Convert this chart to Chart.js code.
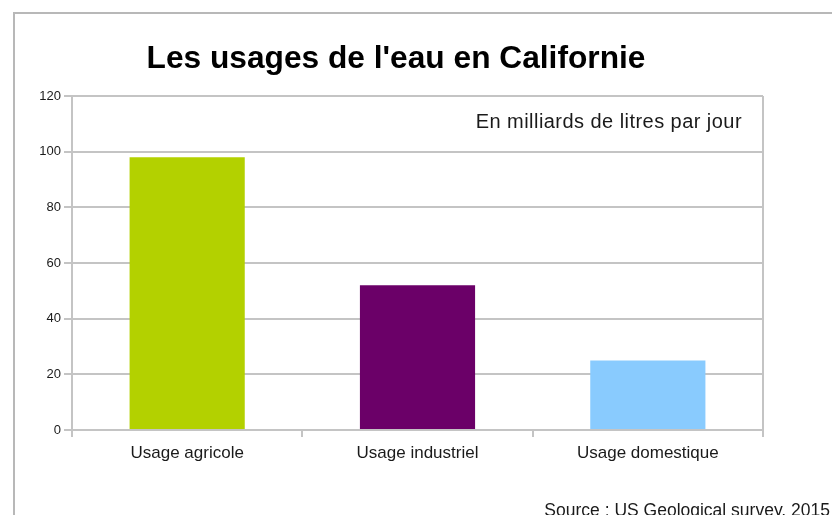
<!DOCTYPE html>
<html>
<head>
<meta charset="utf-8">
<script src="https://cdn.jsdelivr.net/npm/chart.js@4/dist/chart.umd.min.js"></script>
<style>
  html, body { margin: 0; padding: 0; background: #fff; overflow: hidden; }
  #wrap { position: relative; width: 832px; height: 515px; }
  #frame { position: absolute; left: 13px; top: 12px; width: 900px; height: 600px;
           border-left: 2px solid #b8b8b8; border-top: 2px solid #b8b8b8; box-sizing: border-box; }
  canvas { position: absolute; left: 0; top: 0; }
</style>
</head>
<body>
<div id="wrap">
  <div id="frame"></div>
  <canvas id="c" width="832" height="515"></canvas>
</div>
<script>
const categories = ["Usage agricole", "Usage industriel", "Usage domestique"];
const values = [98, 52, 25];
const barColors = ["#b3d100", "#6b0068", "#89cbfe"];
const titleText = "Les usages de l'eau en Californie";
const unitText = "En milliards de litres par jour";
const sourceText = "Source : US Geological survey, 2015";
const yMin = 0, yMax = 120, yStep = 20;

const FONT = "'Liberation Sans', Arial, sans-serif";
const GRID = "#c4c4c4";

const decor = {
  id: 'decor',
  afterDraw(chart) {
    const ctx = chart.ctx;
    const a = chart.chartArea;
    ctx.save();
    // right border of plot area
    ctx.strokeStyle = GRID;
    ctx.lineWidth = 2;
    ctx.beginPath();
    ctx.moveTo(a.right, a.top);
    ctx.lineTo(a.right, a.bottom + 7);
    ctx.stroke();
    // title
    ctx.fillStyle = "#000";
    ctx.font = "bold 31.7px " + FONT;
    ctx.textAlign = "center";
    ctx.textBaseline = "alphabetic";
    ctx.fillText(titleText, 396, 68);
    // unit note
    ctx.font = "20px " + FONT;
    ctx.letterSpacing = "0.45px";
    ctx.textAlign = "right";
    ctx.fillStyle = "#1a1a1a";
    ctx.fillText(unitText, a.right - 21, 128);
    // source
    ctx.font = "17.5px " + FONT;
    ctx.letterSpacing = "0px";
    ctx.fillText(sourceText, 830, 516);
    ctx.restore();
  }
};

new Chart(document.getElementById('c'), {
  type: 'bar',
  data: {
    labels: categories,
    datasets: [{
      data: values,
      backgroundColor: barColors,
      borderWidth: 0,
      barPercentage: 0.5,
      categoryPercentage: 1.0
    }]
  },
  options: {
    responsive: false,
    animation: false,
    devicePixelRatio: 1,
    layout: { padding: { top: 96, right: 69, left: 0, bottom: 0 } },
    plugins: { legend: { display: false }, tooltip: { enabled: false }, title: { display: false } },
    scales: {
      x: {
        grid: { display: true, drawOnChartArea: false, drawTicks: true, tickLength: 7, color: GRID, lineWidth: 2, offset: true },
        border: { display: true, color: GRID, width: 2 },
        ticks: { color: "#1a1a1a", font: { family: FONT, size: 17 }, padding: 6, maxRotation: 0 },
        afterFit(scale) { scale.height = 85; }
      },
      y: {
        min: yMin, max: yMax,
        grid: { color: GRID, lineWidth: 2, tickLength: 8 },
        border: { display: true, color: GRID, width: 2 },
        ticks: { stepSize: yStep, color: "#1a1a1a", font: { family: FONT, size: 13 }, padding: 3 },
        afterFit(scale) { scale.width = 72; }
      }
    }
  },
  plugins: [decor]
});
</script>
</body>
</html>
